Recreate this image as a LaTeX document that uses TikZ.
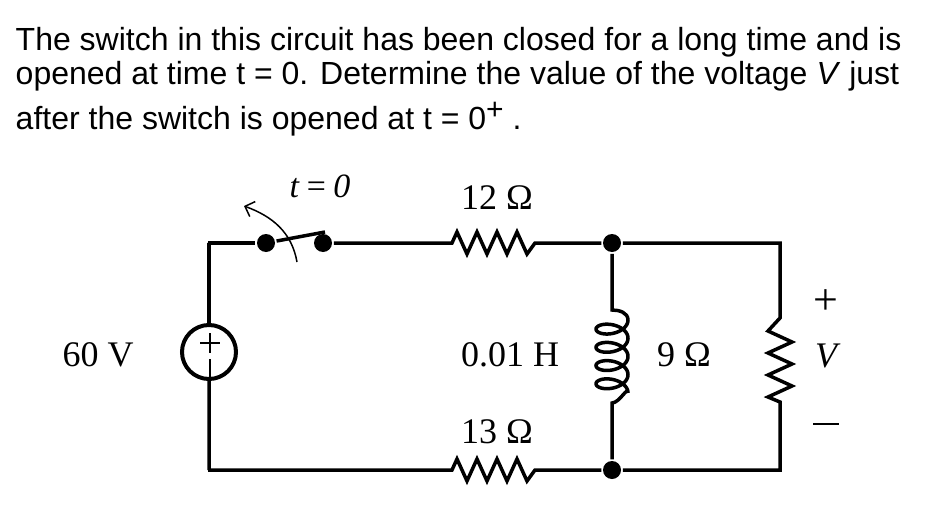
\documentclass[tikz,border=0pt]{standalone}
\usepackage{fontspec}
\usetikzlibrary{arrows.meta}
\setmainfont{Liberation Serif}
\newfontfamily\qfont{Liberation Sans}
\begin{document}
\begin{tikzpicture}[x=1pt,y=-1pt,line width=3.5pt,
  lbl/.style={inner sep=0pt,font=\fontsize{36}{40}\selectfont},
  ql/.style={anchor=base west,inner sep=0pt,font=\qfont\fontsize{32}{36}\selectfont},
  dot/.style={circle,fill,inner sep=0pt,minimum size=18pt}]
\useasboundingbox (0,0) rectangle (938,522);
\node[ql] (q1) at (14,50) {The switch in this circuit has been closed for a long time and is};
\node[ql] (q2) at (14,84) {opened at time t = 0. Determine the value of the voltage \textit{V} just};
\node[ql] (q3) at (14,129) {after the switch is opened at t = 0\raisebox{10pt}{\fontsize{30}{30}\selectfont +} .};
% nodes
\coordinate (tl) at (208,243); \coordinate (bl) at (208,470);
\node[dot] (s1) at (266,243) {};
\node[dot] (s2) at (323,243) {};
\node[dot] (nt) at (612,243) {};
\node[dot] (nb) at (612,470) {};
\coordinate (tr) at (780,243); \coordinate (br) at (780,470);
\node[circle,draw,line width=4pt,minimum size=54pt,inner sep=0pt] (src) at (209,352) {};
% wires
\draw (src.north) -- (209,243) -- (tl) -- (s1);
\draw (src.south) -- (209,470) -- (bl) -- (452,470) -- ++(5,-11) -- ++(10,22) -- ++(10,-22) -- ++(10,22) -- ++(10,-22) -- ++(10,22) -- ++(10,-22) -- ++(10,22) -- ++(8,-11) -- (nb) -- (br) -- (780,402)
  -- ++(-12,-5) -- ++(24,-11) -- ++(-24,-11) -- ++(24,-11) -- ++(-24,-11) -- ++(24,-11) -- ++(-24,-11) -- (780,318) -- (tr) -- (nt);
\draw (s2) -- (452,243) -- ++(5,-11) -- ++(10,22) -- ++(10,-22) -- ++(10,22) -- ++(10,-22) -- ++(10,22) -- ++(10,-22) -- ++(10,22) -- ++(8,-11) -- (nt);
\draw (s1) -- (325,232);
% inductor
\draw (nt) -- (612,310) to[out=0,in=90] (628,320)
  plot[domain=pi:9*pi,samples=300,variable=\t] ({612-16*cos(\t r)},{320+2.9*(\t-pi)-9*sin(\t r)})
  to[out=90,in=0] (612,403) -- (nb);
% switch arrow
\draw[line width=1.5pt,-{Straight Barb[length=8pt,width=16pt]}] (297,262) to[out=100,in=-20] (244,206);
% labels
\node[lbl,font=\itshape\fontsize{34}{40}\selectfont] (t0) at (320,186) {t\,=\,0};
\node[lbl] (l12) at (497,198) {12 Ω};
\node[lbl] (l60) at (98,355) {60 V};
\node[lbl] (lH) at (510,355) {0.01 H};
\node[lbl] (l9) at (684,355) {9 Ω};
\node[lbl] (l13) at (497,432) {13 Ω};
\node[lbl,font=\fontsize{44}{44}\selectfont] (pl) at (826,302) {+};
\node[lbl,font=\itshape\fontsize{36}{40}\selectfont] (lV) at (826,356) {V};
\draw[line width=2.5pt] (813,424) -- (839,424);
\draw[line width=2.8pt] (200,343) -- (220,343) (210,333) -- (210,353);
\draw[line width=2.8pt] (210,359) -- (210,377);
\end{tikzpicture}
\end{document}
